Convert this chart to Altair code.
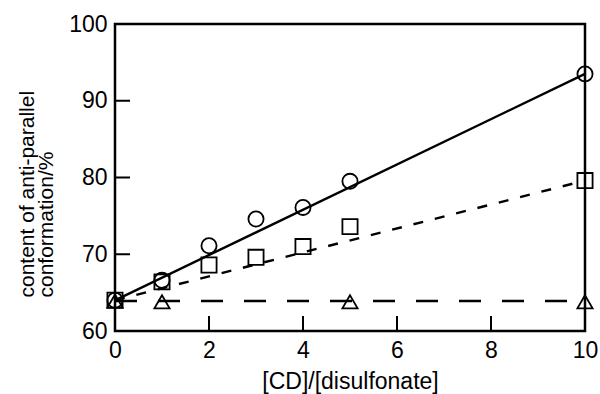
import altair as alt
import pandas as pd

# data
circ_x = [0, 1, 2, 3, 4, 5, 10]
circ_y = [64.0, 66.6, 71.1, 74.6, 76.1, 79.5, 93.5]
sq_x = [0, 1, 2, 3, 4, 5, 10]
sq_y = [64.0, 66.4, 68.6, 69.6, 71.0, 73.6, 79.6]
tri_x = [0, 1, 5, 10]
tri_y = [63.9, 63.8, 63.8, 63.8]

# fitted lines (endpoints)
line_x = [0, 10]
solid_y = [64.0, 93.5]
short_y = [64.0, 79.6]
long_y = [63.9, 63.9]

x_ticks = [0, 2, 4, 6, 8, 10]
y_ticks = [60, 70, 80, 90, 100]

W, H = 470, 307

pts = pd.DataFrame(
    [{"x": a, "y": b, "s": "circle"} for a, b in zip(circ_x, circ_y)]
    + [{"x": a, "y": b, "s": "square"} for a, b in zip(sq_x, sq_y)]
    + [{"x": a, "y": b, "s": "triangle-up"} for a, b in zip(tri_x, tri_y)]
)

xs = alt.Scale(domain=[0, 10], nice=False)
ys = alt.Scale(domain=[60, 100], nice=False)

FONT = "Liberation Sans"

xax = alt.Axis(values=x_ticks, ticks=False, labelFontSize=23, labelPadding=8,
               labelFlush=False, labelOverlap=False,
               title="[CD]/[disulfonate]", titleFontSize=23, titleFontWeight="normal",
               titlePadding=8, domain=False, grid=False, labelColor="black",
               titleColor="black", labelFont=FONT, titleFont=FONT)
yax = alt.Axis(values=y_ticks, ticks=False, labelFontSize=23, labelPadding=8,
               labelFlush=False, labelOverlap=False,
               title=["content of anti-parallel", "conformation/%"], titleFontSize=21,
               titleFontWeight="normal", titlePadding=12, domain=False, grid=False,
               titleAlign="left", titleAnchor="start", titleY=273,
               labelColor="black", titleColor="black", labelFont=FONT, titleFont=FONT,
               titleLineHeight=19)

def line(yvals, dash):
    df = pd.DataFrame({"x": line_x, "y": yvals})
    kw = dict(color="black", strokeWidth=2.4, clip=True)
    if dash:
        kw["strokeDash"] = dash
    return alt.Chart(df).mark_line(**kw).encode(
        x=alt.X("x:Q", scale=xs, axis=xax), y=alt.Y("y:Q", scale=ys, axis=yax))

solid = line(solid_y, None)
short = line(short_y, [10, 12])
long_ = line(long_y, [22, 21])

shape_scale = alt.Scale(domain=["circle", "square", "triangle-up"],
                        range=["circle", "square", "triangle-up"])
size_scale = alt.Scale(domain=["circle", "square", "triangle-up"], range=[230, 230, 200])

points = alt.Chart(pts).mark_point(filled=False, color="black", strokeWidth=1.8, opacity=1).encode(
    x=alt.X("x:Q", scale=xs, axis=xax),
    y=alt.Y("y:Q", scale=ys, axis=yax),
    shape=alt.Shape("s:N", scale=shape_scale, legend=None),
    size=alt.Size("s:N", scale=size_scale, legend=None),
)

yt = pd.DataFrame({"y": [70, 80, 90]})
xt = pd.DataFrame({"x": [2, 4, 6, 8]})
yticks = alt.Chart(yt).mark_rule(color="black", strokeWidth=2).encode(
    y=alt.Y("y:Q", scale=ys, axis=yax), x=alt.value(0), x2=alt.value(15))
xticks = alt.Chart(xt).mark_rule(color="black", strokeWidth=2).encode(
    x=alt.X("x:Q", scale=xs, axis=xax), y=alt.value(H), y2=alt.value(H - 15))

chart = alt.layer(long_, short, solid, points, yticks, xticks).properties(
    width=W, height=H,
    autosize=alt.AutoSizeParams(type="none"),
    padding={"left": 115, "top": 24, "right": 15, "bottom": 63},
    background="white",
).configure_view(stroke="black", strokeWidth=2.5).configure_text(font=FONT)

chart.save("out.html", embed_options={"renderer": "svg", "actions": False})
